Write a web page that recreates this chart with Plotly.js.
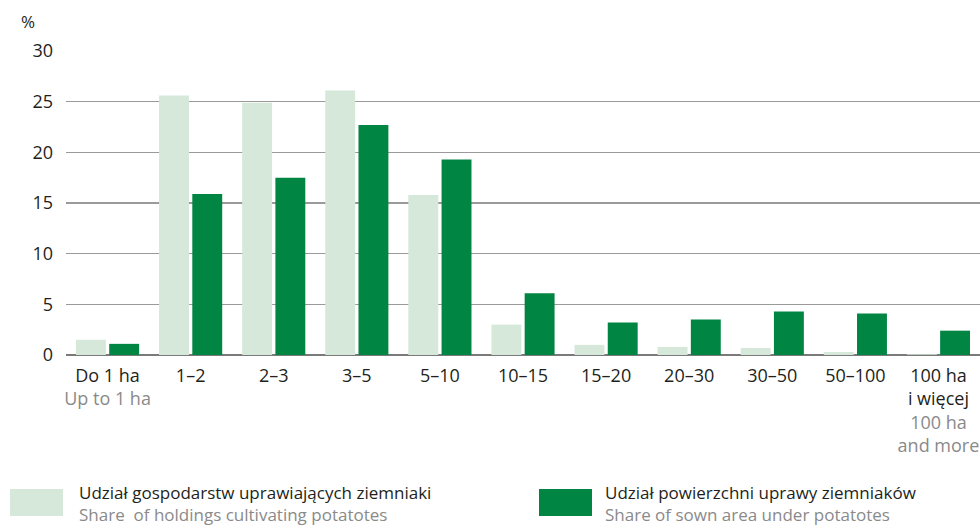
<!DOCTYPE html>
<html>
<head>
<meta charset="utf-8">
<script src="https://cdn.plot.ly/plotly-3.0.1.min.js"></script>
<style>html,body{margin:0;padding:0;background:#fff;}#chart{width:980px;height:525px;}</style>
</head>
<body>
<div id="chart"></div>
<script>
const categoriesPL = ["Do 1 ha", "1–2", "2–3", "3–5", "5–10", "10–15", "15–20", "20–30", "30–50", "50–100", "100 ha<br>i więcej"];
const categoriesEN = ["Up to 1 ha", "", "", "", "", "", "", "", "", "", "100 ha<br>and more"];
const holdingsShare = [1.5, 25.6, 24.9, 26.1, 15.8, 3.0, 1.0, 0.8, 0.7, 0.3, 0.07];
const areaShare = [1.1, 15.9, 17.5, 22.7, 19.3, 6.1, 3.2, 3.5, 4.3, 4.1, 2.4];
const seriesNamesPL = ["Udział gospodarstw uprawiających ziemniaki", "Udział powierzchni uprawy ziemniaków"];
const seriesNamesEN = ["Share  of holdings cultivating potatotes", "Share of sown area under potatotes"];
const yTicks = [0, 5, 10, 15, 20, 25, 30];

const LIGHT = "#d5e8da", DARK = "#008542", GREY = "#8a8a8a", TXT = "#231f20";
const FONT = "Open Sans, Noto Sans, sans-serif";

const tickText = categoriesPL.map((c, i) =>
  categoriesEN[i] ? c + '<br><span style="color:' + GREY + '">' + categoriesEN[i] + '</span>' : c);

const traces = [
  {type: "bar", x: categoriesPL, y: holdingsShare, name: seriesNamesPL[0], marker: {color: LIGHT}, hoverinfo: "skip"},
  {type: "bar", x: categoriesPL, y: areaShare, name: seriesNamesPL[1], marker: {color: DARK}, hoverinfo: "skip"}
];

// custom legend (paper coordinates derived from pixel layout: plot left 66, width 914, bottom 355, height 304)
const px = x => (x - 66) / 914, py = y => (355 - y) / 304;
const legendX = [10, 539];
const textX = [77, 603];
const shapes = [], annotations = [];
[LIGHT, DARK].forEach((col, i) => {
  shapes.push({type: "rect", xref: "paper", yref: "paper",
    x0: px(legendX[i]), x1: px(legendX[i] + 53), y0: py(516), y1: py(489),
    fillcolor: col, line: {width: 0}});
  annotations.push({xref: "paper", yref: "paper", x: px(textX[i]), y: py(503),
    xanchor: "left", yanchor: "middle", showarrow: false, align: "left",
    text: seriesNamesPL[i] + '<br><span style="color:' + GREY + '">' + seriesNamesEN[i] + '</span>',
    font: {family: FONT, size: 17, color: TXT}});
});
annotations.push({xref: "paper", yref: "paper", x: px(28), y: py(22),
  xanchor: "center", yanchor: "middle", showarrow: false, text: "%", font: {family: FONT, size: 17, color: TXT}});

const layout = {
  width: 980, height: 525,
  margin: {l: 66, r: 0, t: 51, b: 170},
  paper_bgcolor: "#fff", plot_bgcolor: "#fff",
  barmode: "group", bargap: 0.2, bargroupgap: 0.1,
  showlegend: false,
  font: {family: FONT, size: 18, color: TXT},
  xaxis: {type: "category", tickmode: "array", tickvals: categoriesPL, ticktext: tickText,
    showgrid: false, zeroline: false, showline: false, ticks: "", ticklabelstandoff: 8,
    tickfont: {family: FONT, size: 18, color: TXT}},
  yaxis: {range: [0, 30], tickmode: "array", tickvals: yTicks, showgrid: true, gridcolor: "#9a9a9a", gridwidth: 1.5,
    zeroline: true, zerolinecolor: "#7a7a7a", zerolinewidth: 2, showline: false, ticks: "",
    ticklabelstandoff: 12, tickfont: {family: FONT, size: 18, color: TXT}},
  shapes: shapes, annotations: annotations
};

Plotly.newPlot("chart", traces, layout, {staticPlot: true, displayModeBar: false});
</script>
</body>
</html>
